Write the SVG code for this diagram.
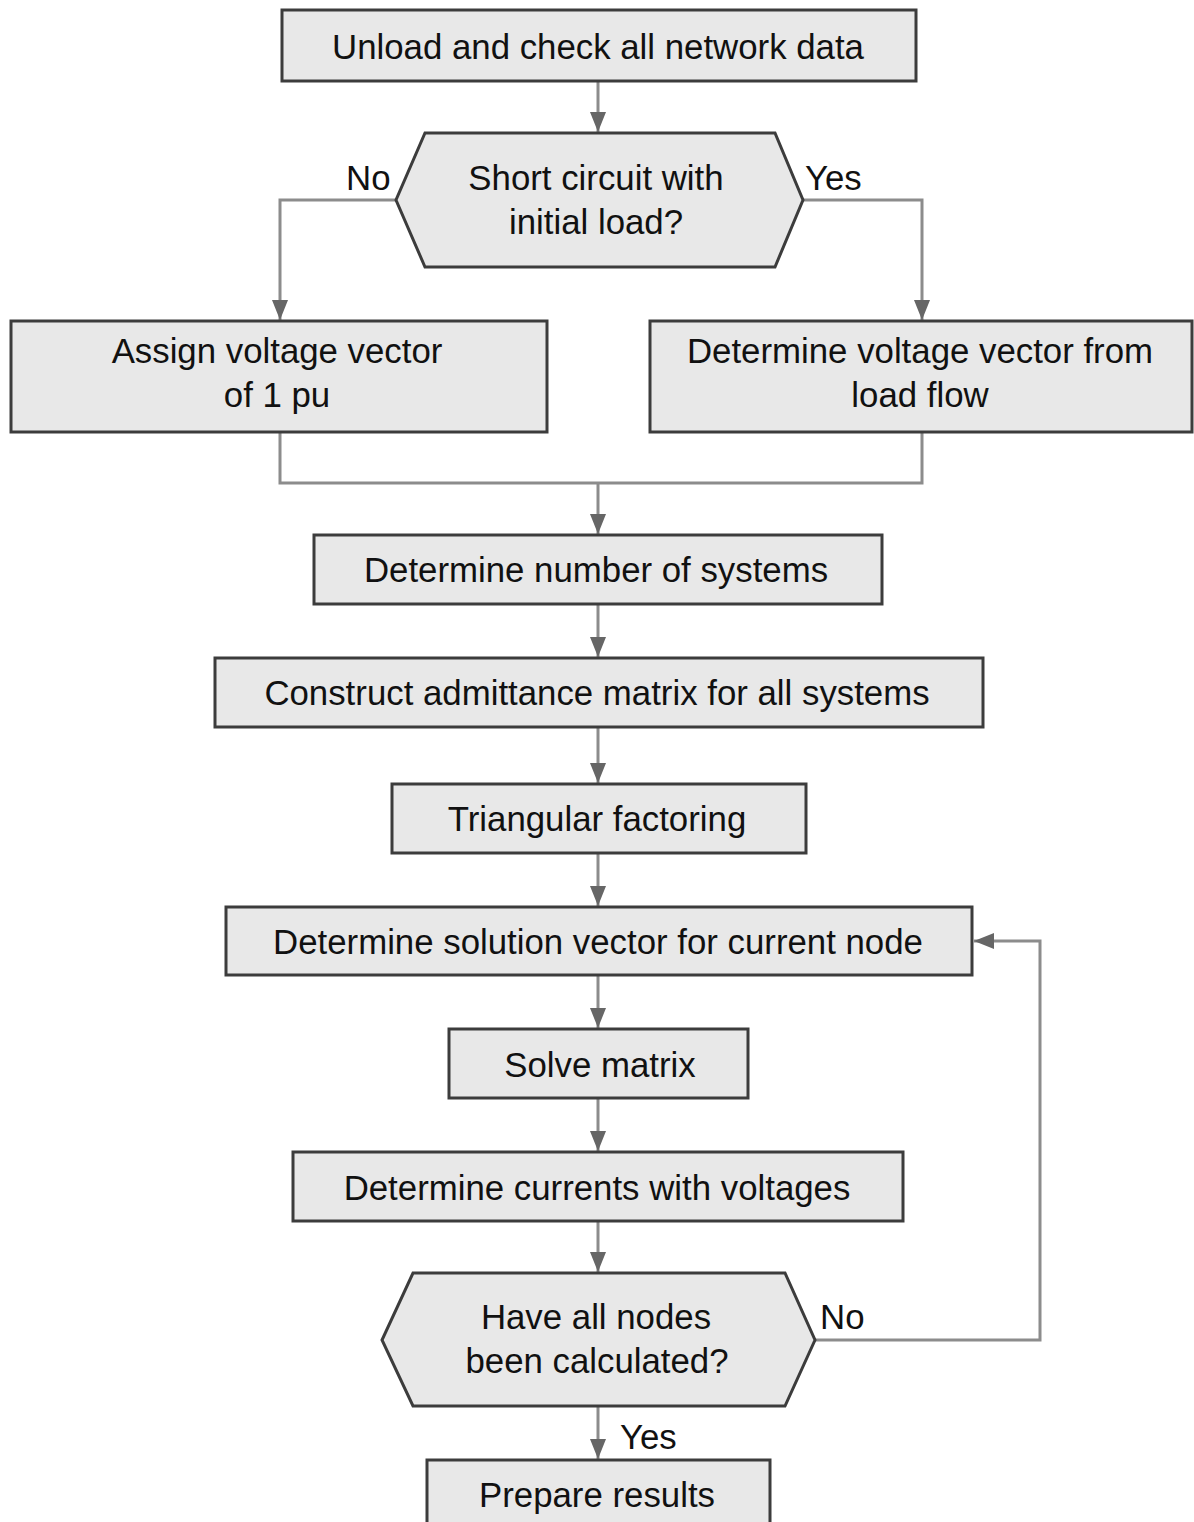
<svg xmlns="http://www.w3.org/2000/svg" width="1194" height="1522" viewBox="0 0 1194 1522">
<style>
.box{fill:#e8e8e8;stroke:#3c3c3c;stroke-width:3}
.t{font-family:"Liberation Sans",Arial,sans-serif;font-size:34.8px;fill:#111;text-anchor:middle}
.lbl{font-family:"Liberation Sans",Arial,sans-serif;font-size:34.8px;fill:#111}
.c{fill:none;stroke:#8c8c8c;stroke-width:3}
</style>
<defs>
<marker id="ah" viewBox="0 0 20 16" refX="20" refY="8" markerWidth="20" markerHeight="16" markerUnits="userSpaceOnUse" orient="auto">
<path d="M0,0 L20,8 L0,16 z" fill="#666"/>
</marker>
</defs>
<rect width="1194" height="1522" fill="#fff"/>
<g id="connectors">
<path class="c" d="M598,81 V132" marker-end="url(#ah)"/>
<path class="c" d="M396,200 H280 V320" marker-end="url(#ah)"/>
<path class="c" d="M803,200 H922 V320" marker-end="url(#ah)"/>
<path class="c" d="M280,432 V483 H922 V432"/>
<path class="c" d="M598,483 V534" marker-end="url(#ah)"/>
<path class="c" d="M598,604 V657" marker-end="url(#ah)"/>
<path class="c" d="M598,727 V783" marker-end="url(#ah)"/>
<path class="c" d="M598,853 V906" marker-end="url(#ah)"/>
<path class="c" d="M598,975 V1028" marker-end="url(#ah)"/>
<path class="c" d="M598,1098 V1151" marker-end="url(#ah)"/>
<path class="c" d="M598,1221 V1272" marker-end="url(#ah)"/>
<path class="c" d="M815,1340 H1040 V941 H974" marker-end="url(#ah)"/>
<path class="c" d="M598,1406 V1459" marker-end="url(#ah)"/>
<text class="lbl" x="346" y="190">No</text>
<text class="lbl" x="805" y="190">Yes</text>
<text class="lbl" x="820" y="1329">No</text>
<text class="lbl" x="620" y="1449">Yes</text>
</g>
<g id="n1"><rect class="box" x="282" y="10" width="634" height="71"/><text class="t" x="598" y="59">Unload and check all network data</text></g>
<g id="n2"><polygon class="box" points="425,133 775,133 803,200 775,267 425,267 396,200"/><text class="t" x="596" y="190">Short circuit with</text><text class="t" x="596" y="234">initial load?</text></g>
<g id="n3"><rect class="box" x="11" y="321" width="536" height="111"/><text class="t" x="277" y="363">Assign voltage vector</text><text class="t" x="277" y="407">of 1 pu</text></g>
<g id="n4"><rect class="box" x="650" y="321" width="542" height="111"/><text class="t" x="920" y="363">Determine voltage vector from</text><text class="t" x="920" y="407">load flow</text></g>
<g id="n5"><rect class="box" x="314" y="535" width="568" height="69"/><text class="t" x="596" y="582">Determine number of systems</text></g>
<g id="n6"><rect class="box" x="215" y="658" width="768" height="69"/><text class="t" x="597" y="705">Construct admittance matrix for all systems</text></g>
<g id="n7"><rect class="box" x="392" y="784" width="414" height="69"/><text class="t" x="597" y="831">Triangular factoring</text></g>
<g id="n8"><rect class="box" x="226" y="907" width="746" height="68"/><text class="t" x="598" y="954">Determine solution vector for current node</text></g>
<g id="n9"><rect class="box" x="449" y="1029" width="299" height="69"/><text class="t" x="600" y="1077">Solve matrix</text></g>
<g id="n10"><rect class="box" x="293" y="1152" width="610" height="69"/><text class="t" x="597" y="1200">Determine currents with voltages</text></g>
<g id="n11"><polygon class="box" points="413,1273 785,1273 815,1340 785,1406 413,1406 382,1340"/><text class="t" x="596" y="1329">Have all nodes</text><text class="t" x="597" y="1373">been calculated?</text></g>
<g id="n12"><rect class="box" x="427" y="1460" width="343" height="80"/><text class="t" x="597" y="1507">Prepare results</text></g>
</svg>
